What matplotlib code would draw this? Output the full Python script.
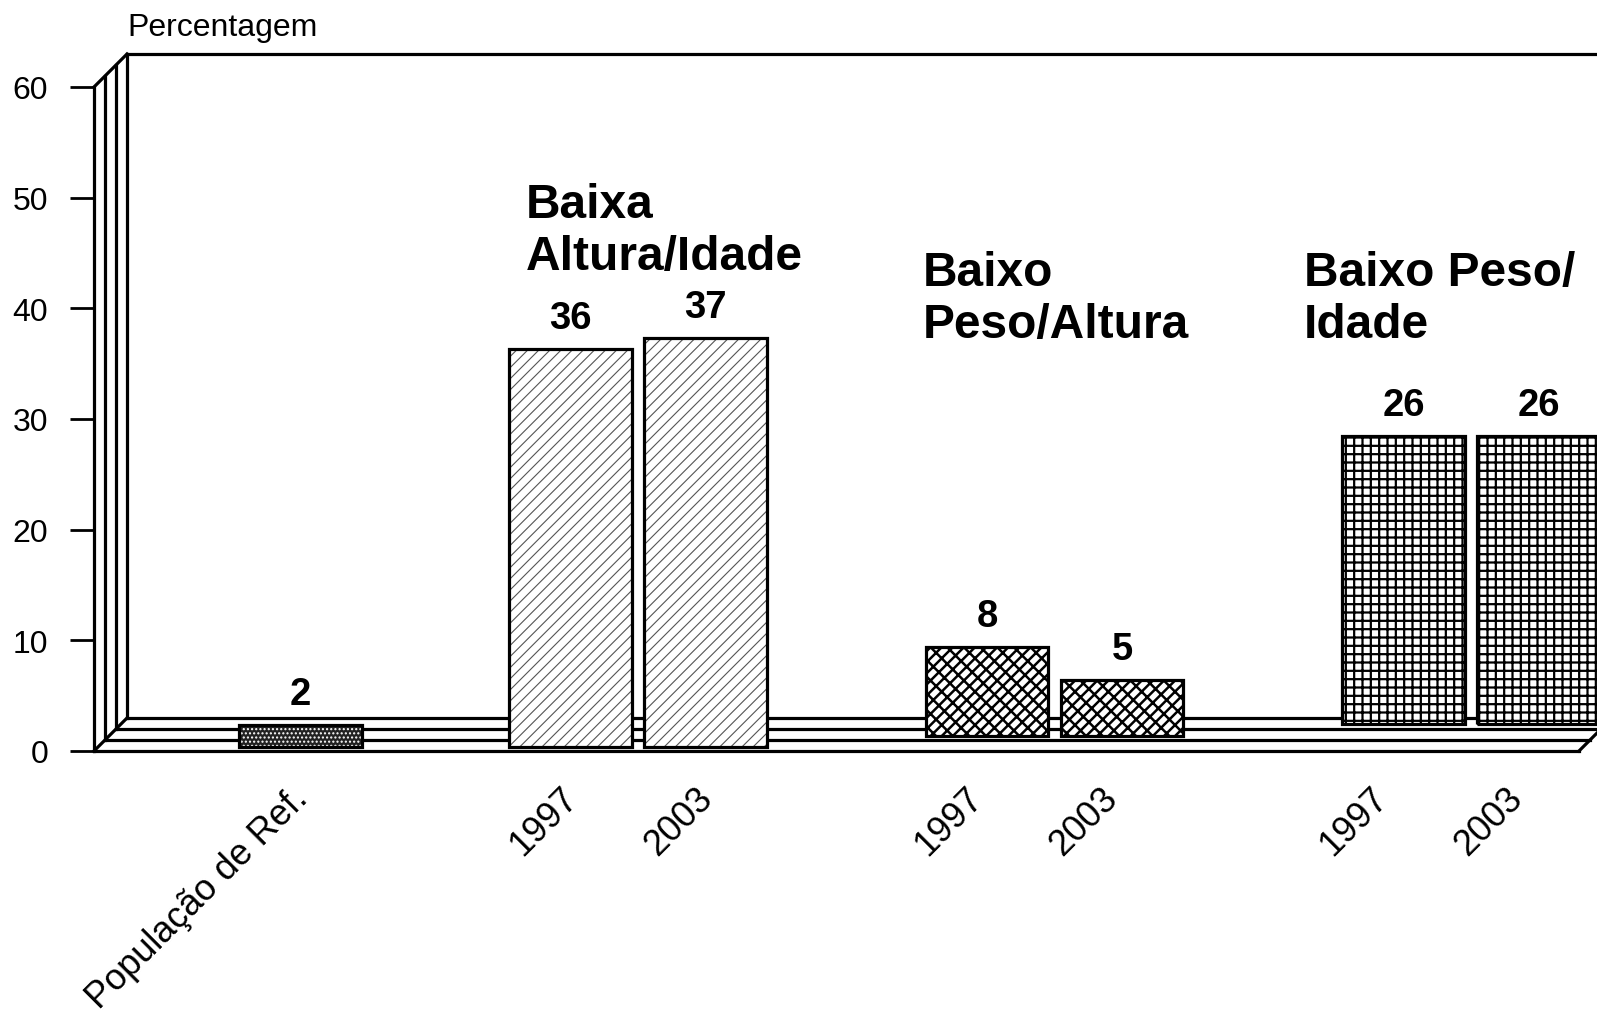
import matplotlib
matplotlib.use("Agg")
import matplotlib.pyplot as plt
import matplotlib.transforms as mtransforms

# ==============================
# dados
# ==============================
categorias = ["", "População de Ref.", "", "1997", "2003", "", "1997", "2003", "", "1997", "2003"]

bar_pos = [1, 3, 4, 6, 7, 9, 10]
valores = [2, 36, 37, 8, 5, 26, 26]
linha_prof = [0, 0, 0, 1, 1, 2, 2]          # fila de profundidade (efeito 3D)
padrao = ["ref", "alt", "alt", "pa", "pa", "pi", "pi"]

titulos = ["Baixa\nAltura/Idade", "Baixo\nPeso/Altura", "Baixo Peso/\nIdade"]
titulo_x = [2.70, 5.64, 8.46]
titulo_y = [51.4, 45.3, 45.3]

yticks = [0, 10, 20, 30, 40, 50, 60]

# ==============================
# estilo
# ==============================
plt.rcParams["font.family"] = ["Liberation Sans", "DejaVu Sans"]

ESTILOS = {
    # face, cor do hatch, hatch, espessura do hatch
    "ref": ("#222222", "white", "....", 1.0),
    "alt": ("white", "#555555", "///", 0.8),
    "pa": ("white", "black", "///\\\\", 1.8),
    "pi": ("white", "black", "++", 1.6),
}

DPI = 100
W, H = 1597, 1012
PASSO = 11          # px por nível de profundidade
LW = 2.3

fig = plt.figure(figsize=(W / DPI, H / DPI), dpi=DPI)
ax = fig.add_axes([94 / W, 260 / H, 1485 / W, 664 / H])
ax.set_xlim(-0.5, 10.5)
ax.set_ylim(0, 60)


def desloc(px_x, px_y):
    return ax.transData + mtransforms.ScaledTranslation(px_x / DPI, px_y / DPI, fig.dpi_scale_trans)


# ==============================
# moldura 3D (chão e parede)
# ==============================
x0, x1 = -0.5, 10.5
for k in range(4):
    t = desloc(PASSO * k, PASSO * k)
    ax.plot([x0, x1], [0, 0], color="black", lw=LW, transform=t, clip_on=False, zorder=2)
    ax.plot([x0, x0], [0, 60], color="black", lw=LW, transform=t, clip_on=False, zorder=2)
# parede do fundo - linha superior
ax.plot([x0, x1 + 1], [60, 60], color="black", lw=LW,
        transform=desloc(3 * PASSO, 3 * PASSO), clip_on=False, zorder=2)

# diagonais
p0 = ax.transData.transform((x0, 0))
p1 = ax.transData.transform((x1, 0))
p2 = ax.transData.transform((x0, 60))
for (px, py) in (p0, p1, p2):
    fig.add_artist(plt.Line2D([px, px + 3 * PASSO], [py, py + 3 * PASSO], color="black",
                              lw=LW, transform=None, zorder=2))

# ==============================
# barras
# ==============================
for x, v, r, p in zip(bar_pos, valores, linha_prof, padrao):
    face, hcor, hatch, hlw = ESTILOS[p]
    d = 4 + 11.5 * r
    t = desloc(d, d)
    with plt.rc_context({"hatch.linewidth": hlw}):
        b = ax.bar([x], [v], width=0.91, color=face, edgecolor=hcor, hatch=hatch,
                   linewidth=0, zorder=3)[0]
        if hasattr(b, "set_hatch_linewidth"):
            b.set_hatch_linewidth(hlw)
    b.set_transform(t)
    b.set_clip_on(False)
    c = ax.bar([x], [v], width=0.91, color="none", edgecolor="black", linewidth=LW, zorder=4)[0]
    c.set_transform(t)
    c.set_clip_on(False)
    ax.text(x, v, str(v), transform=desloc(d, d + 31), ha="center", va="center",
            fontsize=27.5, fontweight="bold", zorder=5)

for txt, tx, ty in zip(titulos, titulo_x, titulo_y):
    ax.text(tx, ty, txt, ha="left", va="top", fontsize=34.5, fontweight="bold")

# ==============================
# eixos
# ==============================
for s in ["top", "right", "left", "bottom"]:
    ax.spines[s].set_visible(False)

ax.set_yticks(yticks)
ax.tick_params(axis="y", length=17.3, width=2.0, pad=15.8, labelsize=23)

ax.set_xticks(range(len(categorias)))
ax.set_xticklabels(categorias, rotation=45, ha="right", va="center",
                   rotation_mode="anchor", fontsize=26)
ax.tick_params(axis="x", length=0, pad=30)
off = mtransforms.ScaledTranslation(6 / DPI, 0, fig.dpi_scale_trans)
for lab in ax.get_xticklabels():
    lab.set_transform(lab.get_transform() + off)

fig.text(127 / W, 1 - 36 / H, "Percentagem", fontsize=23, ha="left", va="baseline")

fig.savefig("out.png", dpi=DPI)
